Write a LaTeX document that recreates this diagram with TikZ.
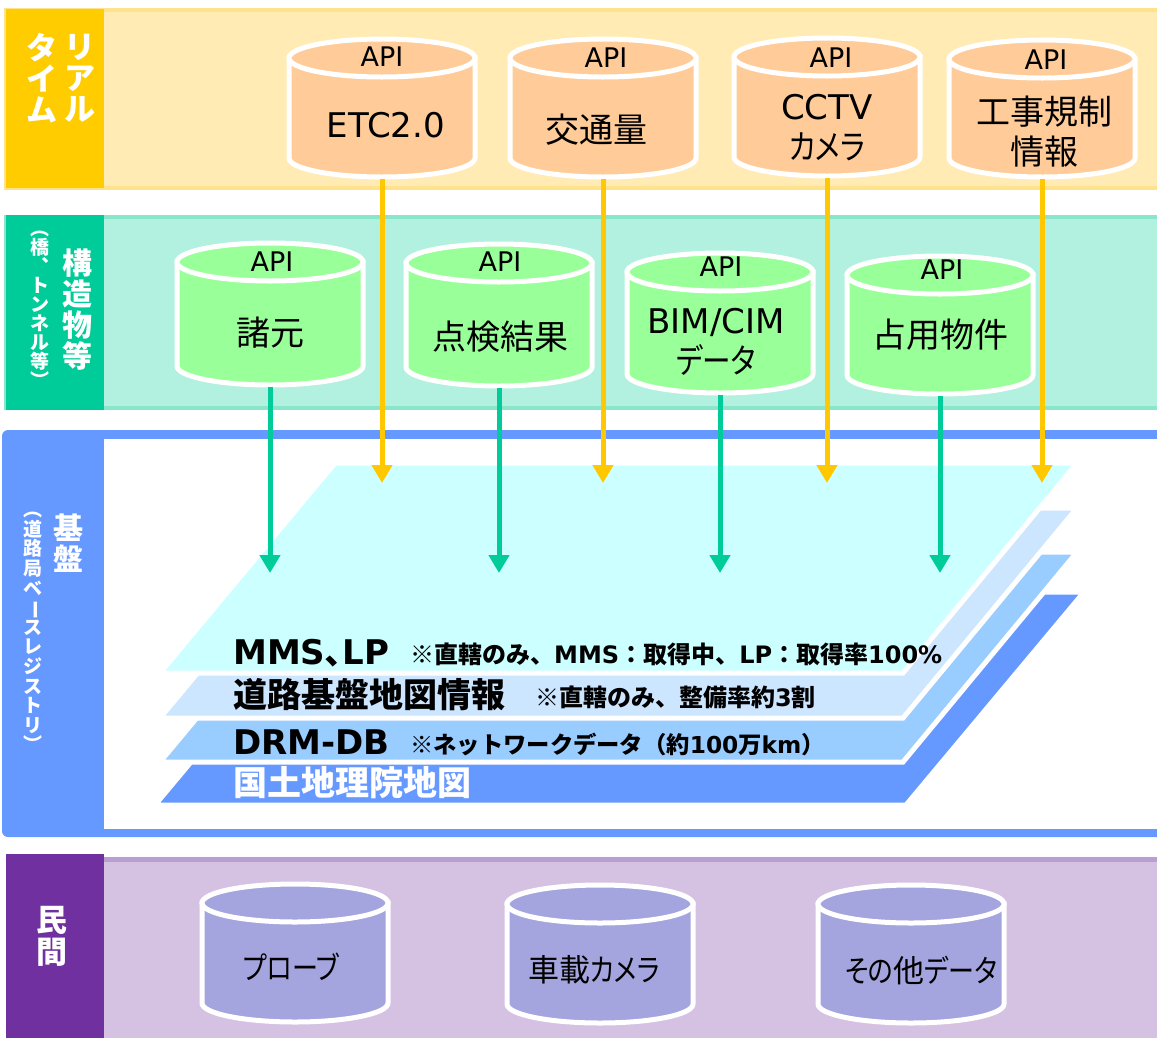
\documentclass[tikz,border=0pt]{standalone}
\usepackage{fontspec}
\setmainfont{Noto Sans CJK JP}
\newfontfamily\kana[FakeStretch=0.84, RawFeature=+palt]{Noto Sans CJK JP}
\newfontfamily\lat{DejaVu Sans}
\usepackage{tikz}
\usetikzlibrary{arrows.meta,positioning,calc}

\definecolor{rtlab}{HTML}{FFCC00}
\definecolor{rtband}{HTML}{FFEBB3}
\definecolor{rtedge}{HTML}{FFE38C}
\definecolor{stlab}{HTML}{00CC99}
\definecolor{stband}{HTML}{B2F0E0}
\definecolor{stedge}{HTML}{8AE6CB}
\definecolor{bsblue}{HTML}{6699FF}
\definecolor{pvlab}{HTML}{7030A0}
\definecolor{pvband}{HTML}{D5C2E3}
\definecolor{pvedge}{HTML}{B99ED3}
\definecolor{cylor}{HTML}{FFCC99}
\definecolor{cylgr}{HTML}{99FF99}
\definecolor{cylpv}{HTML}{A4A4DE}
\definecolor{arror}{HTML}{FFC800}
\definecolor{arrgr}{HTML}{00CC99}
\definecolor{lay1}{HTML}{CCFFFF}
\definecolor{lay2}{HTML}{CCE6FF}
\definecolor{lay3}{HTML}{99CCFF}
\definecolor{lay4}{HTML}{6699FF}

\tikzset{
  band/.style={line width=4pt},
  cylline/.style={draw=white, line width=5pt},
  layer/.style={draw=white, line width=5pt},
  apitxt/.style={inner sep=0pt, font=\lat\fontsize{27}{27}\selectfont},
  dbtxt/.style={inner sep=0pt, align=center, font=\fontsize{34}{40}\selectfont},
  pvtxt/.style={inner sep=0pt, font=\fontsize{31}{31}\selectfont},
  bigtxt/.style={anchor=base west, inner sep=0pt, font=\bfseries\fontsize{34}{34}\selectfont},
  notetxt/.style={anchor=base west, inner sep=0pt, font=\bfseries\fontsize{24}{24}\selectfont},
  vlab/.style={align=center, inner sep=0pt, text=white},
  feedor/.style={draw=arror, line width=5pt, -{Triangle[width=20pt,length=18pt]}},
  feedgr/.style={draw=arrgr, line width=5pt, -{Triangle[width=20pt,length=18pt]}}
}

% database drum: name, x, y of top centre, height, fill
\newcommand{\dbcyl}[5]{%
  \draw[cylline, fill=#5] ({#2-93},{-#3}) -- ({#2-93},{-#3-#4})
    arc[start angle=180, end angle=360, x radius=93pt, y radius=19pt]
    -- ({#2+93},{-#3}) -- cycle;
  \draw[cylline, fill=#5] (#2,{-#3}) ellipse[x radius=93pt, y radius=19pt];
  \coordinate (#1) at (#2,{-#3-#4-21});
}

\begin{document}
\begin{tikzpicture}[x=1pt,y=1pt]
  \useasboundingbox (0,0) rectangle (1157,-1037);

  % bands
  \draw[band, draw=rtedge, fill=rtband] (6,-10) rectangle (1165,-187.5);
  \fill[rtlab] (6,-9) rectangle (104,-188);
  \draw[band, draw=stedge, fill=stband] (6,-217) rectangle (1165,-408);
  \fill[stlab] (6,-215) rectangle (104,-410);
  \fill[bsblue, rounded corners=6pt] (2,-430) rectangle (1170,-837);
  \fill[white] (104,-439) rectangle (1170,-829);
  \fill[pvband] (6,-857) rectangle (1165,-1045);
  \draw[pvedge, line width=5pt] (104,-859.5) -- (1165,-859.5);
  \fill[pvlab] (6,-854) rectangle (104,-1045);

  % map layers
  \draw[layer, fill=lay4] (155,-805) -- (333,-592) -- (1084,-592) -- (906,-805) -- cycle;
  \draw[layer, fill=lay3] (160,-762) -- (335,-552) -- (1077,-552) -- (903,-762) -- cycle;
  \draw[layer, fill=lay2] (160,-718) -- (335,-508) -- (1077,-508) -- (903,-718) -- cycle;
  \draw[layer, fill=lay1] (160,-673) -- (335,-463) -- (1077,-463) -- (903,-673) -- cycle;

  \node[bigtxt] (mms) at (233,-664) {{\lat MMS}､{\lat LP}};
  \node[notetxt] (mmsnote) at (410,-663) {※直轄のみ、{\lat MMS}：取得中、{\lat LP}：取得率{\lat 100\%}};
  \node[bigtxt] (kiban) at (233,-707) {道路基盤地図情報};
  \node[notetxt] (kibannote) at (535,-706) {※直轄のみ、整備率約{\lat 3}割};
  \node[bigtxt] (drm) at (233,-754) {\lat DRM-DB};
  \node[notetxt, font=\bfseries\fontsize{23.3}{24}\selectfont] (drmnote) at (410,-753) {※ネットワークデータ（約{\lat 100}万{\lat km}）};
  \node[bigtxt, text=white] (gsi) at (233,-795) {国土地理院地図};

  % real time
  \dbcyl{etc}{382}{58}{100}{cylor}
  \dbcyl{traffic}{603}{58}{100}{cylor}
  \dbcyl{cctv}{827}{57}{100}{cylor}
  \dbcyl{kouji}{1042}{59}{99}{cylor}
  \node[apitxt] (etc-api) at (382,-57) {API};
  \node[dbtxt] (etc-txt) at (386,-125) {\lat ETC2.0};
  \node[apitxt] (traffic-api) at (606,-58) {API};
  \node[dbtxt] (traffic-txt) at (596,-130) {交通量};
  \node[apitxt] (cctv-api) at (831,-58) {API};
  \node[dbtxt] (cctv-txt) at (827,-128) {{\lat CCTV}\\{\kana カメラ}};
  \node[apitxt] (kouji-api) at (1046,-60) {API};
  \node[dbtxt] (kouji-txt) at (1044,-132) {工事規制\\情報};

  % structures
  \dbcyl{shogen}{270}{262}{104}{cylgr}
  \dbcyl{tenken}{499}{263}{104}{cylgr}
  \dbcyl{bimcim}{720}{272}{102}{cylgr}
  \dbcyl{senyo}{940}{275}{100}{cylgr}
  \node[apitxt] (shogen-api) at (272,-262) {API};
  \node[dbtxt] (shogen-txt) at (270,-333) {諸元};
  \node[apitxt] (tenken-api) at (500,-262) {API};
  \node[dbtxt] (tenken-txt) at (500,-337) {点検結果};
  \node[apitxt] (bimcim-api) at (721,-267) {API};
  \node[dbtxt] (bimcim-txt) at (716,-342) {{\lat BIM/CIM}\\{\kana データ}};
  \node[apitxt] (senyo-api) at (942,-270) {API};
  \node[dbtxt] (senyo-txt) at (940,-335) {占用物件};

  % private
  \dbcyl{probe}{295}{903}{100}{cylpv}
  \dbcyl{shasai}{600}{904}{100}{cylpv}
  \dbcyl{sonota}{911}{904}{100}{cylpv}
  \node[pvtxt] (probe-txt) at (291,-967) {\kana プローブ};
  \node[pvtxt] (shasai-txt) at (594,-970) {車載{\kana カメラ}};
  \node[pvtxt] (sonota-txt) at (921,-970) {{\kana その}他{\kana データ}};

  % feeds into the base map
  \coordinate (ortip) at (0,-483);
  \coordinate (grtip) at (0,-573);
  \draw[feedor] (etc) -- (etc |- ortip);
  \draw[feedor] (traffic) -- (traffic |- ortip);
  \draw[feedor] (cctv) -- (cctv |- ortip);
  \draw[feedor] (kouji) -- (kouji |- ortip);
  \draw[feedgr] (shogen) -- (shogen |- grtip);
  \draw[feedgr] (tenken) -- (tenken |- grtip);
  \draw[feedgr] (bimcim) -- (bimcim |- grtip);
  \draw[feedgr] (senyo) -- (senyo |- grtip);

  % side labels
  \node[vlab, font=\bfseries\fontsize{31}{31}\selectfont] (rt-a) at (80,-78) {リ\\ア\\ル};
  \node[vlab, font=\bfseries\fontsize{31}{31}\selectfont] (rt-b) at (42,-78) {タ\\イ\\ム};
  \node[vlab, font=\bfseries\fontsize{30}{31}\selectfont] (st-a) at (77,-310) {構\\造\\物\\等};
  \node[vlab, font=\bfseries\fontsize{19}{19}\selectfont] (st-b) at (40,-309) {︵\\橋\\︑\\ト\\ン\\ネ\\ル\\等\\︶};
  \node[vlab, font=\bfseries\fontsize{30}{31}\selectfont] (bs-a) at (68,-543) {基\\盤};
  \node[vlab, font=\bfseries\fontsize{19}{19.6}\selectfont] (bs-b) at (33,-632) {︵\\道\\路\\局\\ベ\\\rotatebox[origin=c]{-90}{ー}\\ス\\レ\\ジ\\ス\\ト\\リ\\︶};
  \node[vlab, font=\bfseries\fontsize{31}{32}\selectfont] (pv-a) at (52,-936) {民\\間};
\end{tikzpicture}
\end{document}
